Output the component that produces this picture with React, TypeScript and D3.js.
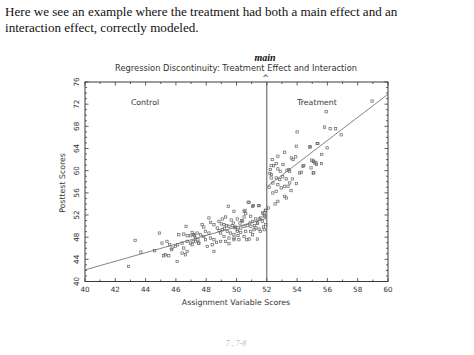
import React from "react";
import * as d3 from "d3";

const W = 474;
const H = 355;

const xTicks = [40, 42, 44, 46, 48, 50, 52, 54, 56, 58, 60];
const yTicks = [40, 44, 48, 52, 56, 60, 64, 68, 72, 76];
const cutoff = 52;

// control group (assignment < 52)
const controlX = [
  46.67, 44.91, 43.31, 43.69, 42.87, 44.6, 45.08, 45.41, 45.59, 45.75, 45.7, 45.19, 45.3, 45.53,
  46.08, 45.97, 46.12, 46.41, 46.52, 46.19, 46.52, 46.74, 46.96, 47.18, 47.29, 47.14, 46.96,
  46.74, 47.51, 47.45, 46.41, 46.63, 46.74,
  49.46, 50.83, 51.12, 51.49, 49.83, 50.56, 51.93, 50.61, 50.5, 50.94, 51.27, 51.6, 51.87, 50.05,
  50.23, 49.79, 49.28, 49.06, 48.84, 49.17, 49.35, 49.5, 49.72, 49.94, 50.28, 50.5, 50.72, 50.89,
  51.05, 51.38, 51.71, 51.93, 51.78, 51.49, 51.16, 50.94, 50.61, 50.28, 50.05, 49.83, 49.61,
  49.39, 49.06, 48.95, 49.17, 49.5, 49.83, 50.16, 50.5, 50.83, 51.38, 48.73, 48.51, 48.29, 48.18,
  47.84, 47.73, 47.95, 48.18, 48.29, 48.51, 48.68, 48.95, 49.28, 49.5, 48.4, 47.84, 47.62, 47.4,
  47.23, 47.07, 47.29, 47.07, 47.51, 47.95, 48.51, 48.07, 51.82,
  50.77, 51.06, 51.45, 50.5, 51.72, 51.83, 51.9, 51.5, 51.39, 51.28, 50.95, 50.68, 51.06, 51.57,
  51.83, 50.06, 49.84, 49.2, 49.0, 50.35, 50.1, 49.65, 48.85, 51.2, 50.4, 49.9,
];
const controlY = [
  49.95, 48.74, 47.42, 45.31, 42.72, 45.55, 46.93, 47.24, 46.63, 46.03, 45.73, 44.64, 44.82, 44.64,
  43.62, 46.33, 46.63, 46.93, 46.03, 48.44, 48.56, 48.26, 48.26, 48.44, 47.84, 47.24, 46.93,
  47.24, 46.93, 47.54, 45.13, 44.82, 45.43,
  53.57, 54.29, 53.69, 53.69, 52.66, 52.84, 52.84, 52.24, 51.64, 51.76, 51.28, 51.46, 51.76, 51.28,
  50.55, 50.55, 51.64, 51.28, 50.85, 50.25, 50.07, 49.95, 50.07, 49.83, 49.65, 49.95, 50.07, 50.55,
  50.85, 50.55, 50.85, 50.25, 49.83, 49.47, 49.35, 49.05, 49.05, 48.86, 49.05, 48.44, 48.74,
  49.05, 49.35, 48.74, 48.14, 47.84, 47.54, 47.54, 48.14, 47.66, 47.66, 49.65, 50.25, 50.67, 51.46,
  49.83, 50.25, 49.05, 48.74, 47.84, 47.54, 47.06, 47.24, 47.24, 46.82, 46.63, 48.14, 48.44, 48.74,
  48.26, 48.86, 47.24, 46.63, 46.94, 47.54, 45.43, 46.33, 52.36,
  54.29, 53.57, 53.69, 52.66, 52.36, 51.88, 52.84, 51.28, 50.55, 49.65, 49.95, 47.54, 48.44, 49.05,
  49.35, 49.35, 47.84, 49.6, 50.4, 51.0, 48.3, 51.1, 49.2, 50.1, 50.9, 49.7,
];

// treatment group (assignment >= 52)
const treatX = [
  53.95, 54.83, 55.32, 53.18, 52.73, 52.36, 53.62, 53.73, 53.91, 55.06, 55.17, 55.28, 55.61, 54.39,
  53.07, 52.62, 52.29, 52.23, 52.73, 52.89, 53.33, 53.46, 53.51, 54.17, 54.28, 55.06, 52.29, 52.62,
  52.85, 53.29, 53.69, 52.4, 52.73, 53.18, 53.4, 53.51, 53.95, 52.62, 52.4, 53.18, 53.29, 52.73,
  58.95, 55.92, 55.81, 56.18, 56.54, 56.91, 54.88, 55.37, 55.98, 55.63, 54.97, 55.1, 55.25, 54.44,
  54.92, 55.1, 54.0, 52.11, 52.45, 52.3, 52.95, 53.05, 52.15, 52.55, 53.6, 52.2,
];
const treatY = [
  64.41, 64.29, 64.9, 63.33, 62.61, 62.0, 62.3, 62.0, 62.49, 61.7, 61.4, 61.1, 61.28, 60.8,
  61.1, 61.28, 60.92, 60.2, 60.32, 59.89, 60.07, 60.2, 59.89, 59.59, 59.71, 59.59, 58.69, 58.69,
  58.39, 58.51, 58.51, 57.78, 57.48, 57.18, 57.18, 57.78, 57.66, 56.28, 55.98, 55.37, 55.07, 54.47,
  72.56, 70.63, 67.86, 67.56, 67.56, 66.47, 64.3, 64.9, 64.12, 62.92, 61.9, 61.71, 61.41, 60.93,
  60.5, 59.6, 67.0, 53.27, 60.9, 59.3, 56.9, 58.9, 57.0, 54.0, 56.4, 59.5,
];

// fitted regression lines (endpoints)
const controlFit = [
  [40, 42.1],
  [52, 51.4],
];
const treatFit = [
  [52, 57.1],
  [60, 73.8],
];

const PLOT = { left: 85, right: 388, top: 82, bottom: 281.5 };

export default function App() {
  const x = d3.scaleLinear().domain([40, 60]).range([PLOT.left, PLOT.right]);
  const y = d3.scaleLinear().domain([40, 76]).range([PLOT.bottom, PLOT.top]);
  const line = d3
    .line<number[]>()
    .x((d) => x(d[0]))
    .y((d) => y(d[1]));

  const axisColor = "#3a3a3a";
  const chartFont = "'DejaVu Sans', Verdana, sans-serif";
  const xMinor = d3.range(40, 61, 1);
  const yMinor = d3.range(40, 77, 1);
  const s = 2.3;

  const pts = (xs: number[], ys: number[]) =>
    xs.map((v, i) => (
      <rect
        key={i}
        x={x(v) - s / 2}
        y={y(ys[i]) - s / 2}
        width={s}
        height={s}
        fill="none"
        stroke="#666"
        strokeWidth={0.7}
      />
    ));

  return (
    <svg
      width={W}
      height={H}
      style={{ position: "absolute", left: 0, top: 0, background: "#fff" }}
    >
      <rect x={0} y={0} width={W} height={H} fill="#fff" />
      <text fontFamily="'Liberation Serif', 'Times New Roman', serif" fontSize={13.1} fill="#111">
        <tspan x={5} y={16}>
          Here we see an example where the treatment had both a main effect and an
        </tspan>
        <tspan x={5} y={31.5}>
          interaction effect, correctly modeled.
        </tspan>
      </text>

      <text
        x={265}
        y={61}
        textAnchor="middle"
        fontFamily="'Liberation Serif', serif"
        fontStyle="italic"
        fontWeight="bold"
        fontSize={10}
        fill="#111"
      >
        main
      </text>
      <text
        x={236}
        y={71}
        textAnchor="middle"
        fontFamily={chartFont}
        fontSize={8.3}
        fill="#333"
      >
        Regression Discontinuity: Treatment Effect and Interaction
      </text>
      <text x={265.5} y={81} textAnchor="middle" fontFamily={chartFont} fontSize={8} fill="#333">
        ^
      </text>

      {/* frame */}
      <rect
        x={PLOT.left}
        y={PLOT.top}
        width={PLOT.right - PLOT.left}
        height={PLOT.bottom - PLOT.top}
        fill="none"
        stroke={axisColor}
        strokeWidth={1}
      />

      {/* ticks */}
      {xMinor.map((v) => {
        const len = v % 2 === 0 ? 3.5 : 2;
        return (
          <g key={"xt" + v} stroke={axisColor} strokeWidth={0.8}>
            <line x1={x(v)} x2={x(v)} y1={PLOT.bottom} y2={PLOT.bottom - len} />
            <line x1={x(v)} x2={x(v)} y1={PLOT.top} y2={PLOT.top + len} />
          </g>
        );
      })}
      {yMinor.map((v) => {
        const len = v % 4 === 0 ? 3.5 : 2;
        return (
          <g key={"yt" + v} stroke={axisColor} strokeWidth={0.8}>
            <line x1={PLOT.left} x2={PLOT.left + len} y1={y(v)} y2={y(v)} />
            <line x1={PLOT.right} x2={PLOT.right - len} y1={y(v)} y2={y(v)} />
          </g>
        );
      })}

      {xTicks.map((v) => (
        <text
          key={"xl" + v}
          x={x(v)}
          y={292}
          textAnchor="middle"
          fontFamily={chartFont}
          fontSize={7.2}
          fill="#333"
        >
          {v}
        </text>
      ))}
      {yTicks.map((v) => (
        <text
          key={"yl" + v}
          transform={`translate(78.5,${y(v)}) rotate(-90)`}
          textAnchor="middle"
          fontFamily={chartFont}
          fontSize={7.2}
          fill="#333"
        >
          {v}
        </text>
      ))}

      <text
        x={236}
        y={305}
        textAnchor="middle"
        fontFamily={chartFont}
        fontSize={7.8}
        fill="#333"
      >
        Assignment Variable Scores
      </text>
      <text
        transform={`translate(65,${183}) rotate(-90)`}
        textAnchor="middle"
        fontFamily={chartFont}
        fontSize={7.8}
        fill="#333"
      >
        Posttest Scores
      </text>

      <text x={145} y={105} textAnchor="middle" fontFamily={chartFont} fontSize={7.8} fill="#333">
        Control
      </text>
      <text x={317} y={105} textAnchor="middle" fontFamily={chartFont} fontSize={7.8} fill="#333">
        Treatment
      </text>

      {/* cutoff */}
      <line
        x1={x(cutoff)}
        x2={x(cutoff)}
        y1={PLOT.top}
        y2={PLOT.bottom}
        stroke="#555"
        strokeWidth={1}
      />

      <path d={line(controlFit) || ""} fill="none" stroke="#666" strokeWidth={0.8} />
      <path d={line(treatFit) || ""} fill="none" stroke="#666" strokeWidth={0.8} />

      <g>{pts(controlX, controlY)}</g>
      <g>{pts(treatX, treatY)}</g>

      <text
        x={236}
        y={346}
        textAnchor="middle"
        fontFamily="'Liberation Serif', serif"
        fontStyle="italic"
        fontSize={8}
        fill="#bbb"
      >
        7., 7-8
      </text>
    </svg>
  );
}
